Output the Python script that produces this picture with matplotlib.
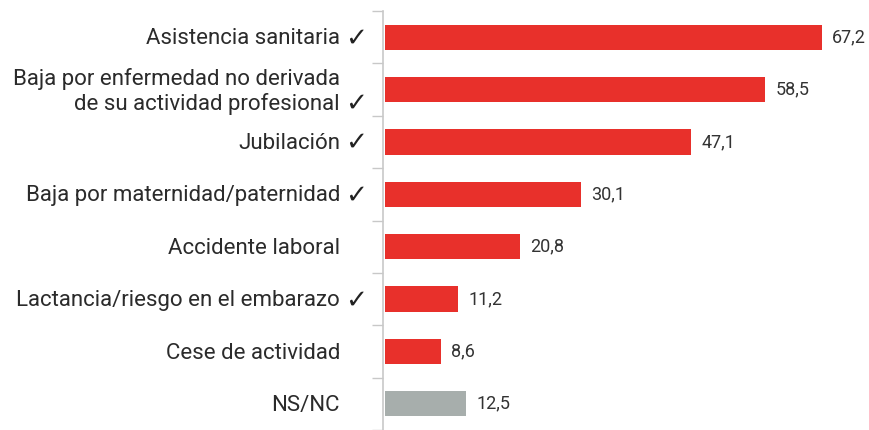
import matplotlib
matplotlib.use("Agg")
import matplotlib.pyplot as plt

categories = [
    "Asistencia sanitaria",
    "Baja por enfermedad no derivada\nde su actividad profesional",
    "Jubilación",
    "Baja por maternidad/paternidad",
    "Accidente laboral",
    "Lactancia/riesgo en el embarazo",
    "Cese de actividad",
    "NS/NC",
]
checked = [True, True, True, True, False, True, False, False]
values = [67.2, 58.5, 47.1, 30.1, 20.8, 11.2, 8.6, 12.5]
value_labels = ["67,2", "58,5", "47,1", "30,1", "20,8", "11,2", "8,6", "12,5"]
colors = ["#E8302B"] * 7 + ["#A7AEAC"]

plt.rcParams['font.family'] = ['Roboto', 'DejaVu Sans']

fig = plt.figure(figsize=(8.69, 4.30), dpi=100)
ax = fig.add_axes([383 / 869, 0.0, 1 - 383 / 869, 1 - 11 / 430])

n = len(values)
ypos = list(range(n))
ax.barh(ypos, values, height=0.48, color=colors, left=0)
ax.set_ylim(n - 0.5, -0.5)
ax.set_xlim(-0.3, 74.5)

for y, v, lab in zip(ypos, values, value_labels):
    ax.text(v + 1.6, y, lab, va="center", ha="left", fontsize=13, color="#333333")

# category labels and check marks
for y, c, chk in zip(ypos, categories, checked):
    ax.text(-6.9, y + 0.03, c, va="center", ha="right", fontsize=16, color="#2B2B2B",
            linespacing=1.17)
    if chk:
        yc = y + (0.25 if "\n" in c else 0.0)
        ax.text(-4.5, yc + 0.02, "\u2713", va="center", ha="center", fontsize=19,
                family=["DejaVu Sans"], color="#222222")

# ticks at category boundaries
ax.set_yticks([i - 0.5 for i in range(n + 1)])
ax.set_yticklabels([])
ax.tick_params(axis="y", length=8, width=1, color="#C8C8C8")
ax.set_xticks([])
for s in ["top", "right", "bottom"]:
    ax.spines[s].set_visible(False)
ax.spines["left"].set_color("#C8C8C8")
ax.spines["left"].set_linewidth(1.2)

fig.savefig("out.png", dpi=100)
